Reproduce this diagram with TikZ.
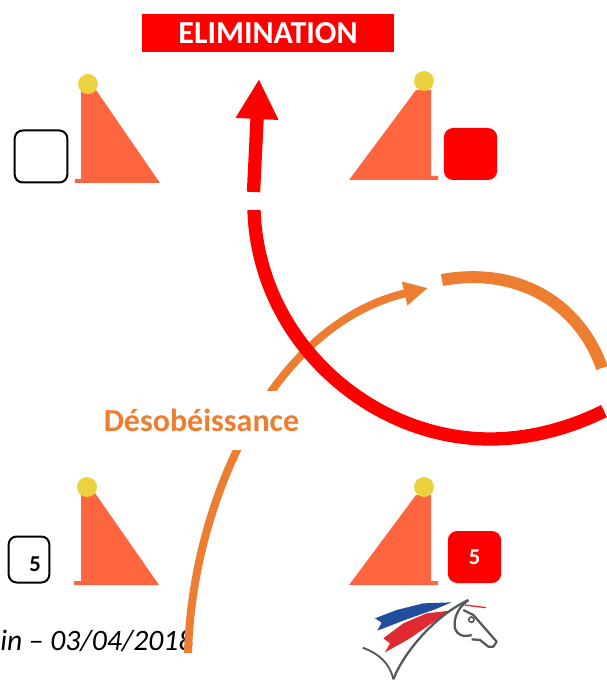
\documentclass[tikz,border=0pt]{standalone}
\usepackage{fontspec}
\setmainfont{Carlito}
\usetikzlibrary{arrows.meta}
\definecolor{flagred}{HTML}{FF6640}
\definecolor{ballyellow}{HTML}{EBD340}
\definecolor{runorange}{HTML}{ED7D31}
\definecolor{logoblue}{HTML}{1F4E9C}
\definecolor{logored}{HTML}{DE2A30}
\definecolor{logogrey}{HTML}{55585A}
\tikzset{
    flag/.style={fill=flagred},
    ball/.style={fill=ballyellow},
    penalty/.style={draw=black, line width=1.5pt, rounded corners=6pt, fill=white, inner sep=0pt},
    redbox/.style={fill=red, rounded corners=7pt, inner sep=0pt},
    redrun/.style={draw=red, line width=10pt},
    thinrun/.style={draw=runorange, line width=6pt},
    thickrun/.style={draw=runorange, line width=9pt},
}

\begin{document}
\begin{tikzpicture}[x=0.75pt, y=-0.75pt]
    \useasboundingbox (0, 0) rectangle (606, 680);

    % Footer text sits below the run lines
    \node[anchor=base west, inner sep=0pt, font=\itshape\fontsize{22.2}{25}\selectfont] (datetext) at (0, 650) {in – 03/04/2018};

    % Draw the flags
    \fill[flag] (81, 90) -- (96, 90) -- (160, 183) -- (75, 183) -- (75, 179) -- (81, 179) -- cycle;
    \fill[ball] (88, 84) circle (10);
    \fill[flag] (349, 180) -- (416, 90) -- (431, 90) -- (431, 176) -- (438, 176) -- (438, 180) -- cycle;
    \fill[ball] (424, 81) circle (10);
    \fill[flag] (81, 493) -- (95, 493) -- (159, 585) -- (74, 585) -- (74, 581) -- (81, 581) -- cycle;
    \fill[ball] (87, 487) circle (10);
    \fill[flag] (349, 585) -- (416, 495) -- (431, 495) -- (431, 581) -- (438, 581) -- (438, 585) -- cycle;
    \fill[ball] (424, 487) circle (10);

    % Penalty boxes
    \node[penalty, minimum width=39.5pt, minimum height=39pt] (emptybox) at (41, 156.5) {};
    \node[redbox, minimum width=40pt, minimum height=39pt] (fullbox) at (470.5, 154) {};
    \node[penalty, minimum width=30.5pt, minimum height=34.5pt] (fivebox) at (29, 559.5) {};
    \node[inner sep=0pt, font=\bfseries\fontsize{17}{20}\selectfont] (fivetext) at (35, 564.5) {5};
    \node[redbox, minimum width=40pt, minimum height=39pt, text=white, font=\bfseries\fontsize{17}{20}\selectfont] (redfive) at (474.5, 557) {5};

    % Elimination banner
    \node[fill=red, text=white, inner sep=0pt, minimum width=189pt, minimum height=28.5pt, font=\bfseries\fontsize{24}{28}\selectfont] (banner) at (268, 33) {ELIMINATION};

    % Run end points
    \coordinate (thinstart) at (188, 653);
    \coordinate (thinend) at (428, 288);
    \coordinate (thickstart) at (442, 280);
    \coordinate (thickend) at (602, 368);
    \coordinate (redstart) at (604, 411);
    \coordinate (redend) at (254, 210);
    \coordinate (arrowstart) at (253.5, 192);
    \coordinate (arrowtip) at (259, 79);

    % Orange run goes under the label and the red run
    \draw[thinrun, -{Triangle[length=18pt, width=17pt]}] (thinstart) .. controls (192, 505) and (270, 325) .. (thinend);
    \draw[thickrun] (thickstart) .. controls (520, 266) and (580, 305) .. (thickend);
    \node[fill=white, inner sep=0pt, minimum width=146pt, minimum height=44pt, text=runorange, font=\bfseries\fontsize{24}{28}\selectfont] (refusal) at (201.5, 420.5) {Désobéissance};

    % Red run
    \draw[redrun] (redstart) .. controls (570, 428) and (530, 439) .. (490, 439)
        .. controls (370, 439) and (258, 340) .. (redend);
    \draw[redrun, -{Triangle[length=30pt, width=30pt]}] (arrowstart) -- (arrowtip);

    % Logo, in its own grid
    \begin{scope}[shift={(340, 580)}, x=0.25pt, y=-0.25pt]
        \fill[logoblue] (335, 67) -- (250, 70) -- (170, 90) -- (105, 115) -- (125, 128) -- (112, 152)
            -- (200, 118) -- (285, 88) -- cycle;
        \fill[logored] (330, 92) -- (260, 100) -- (190, 130) -- (130, 175) -- (150, 190) -- (135, 217)
            -- (205, 178) -- (290, 120) -- cycle;
        \draw[logored, line width=1pt] (375, 75) -- (438, 83);
        \draw[logogrey, line width=1.4pt] (68, 203) .. controls (115, 220) and (150, 250) .. (160, 298);
        \draw[logogrey, line width=1.7pt] (160, 298) .. controls (190, 220) and (280, 110) .. (385, 60);
        \draw[logogrey, line width=1.7pt, line join=round] (385, 60) .. controls (350, 85) and (340, 120) .. (345, 145)
            .. controls (350, 165) and (370, 172) .. (395, 165);
        \draw[logogrey, line width=1.7pt, line join=round] (370, 90) -- (400, 105) -- (470, 185) -- (460, 200)
            -- (445, 200) -- (420, 180) -- (395, 178);
        \draw[logogrey, line width=1.2pt] (394, 119) circle (8);
    \end{scope}
\end{tikzpicture}
\end{document}
